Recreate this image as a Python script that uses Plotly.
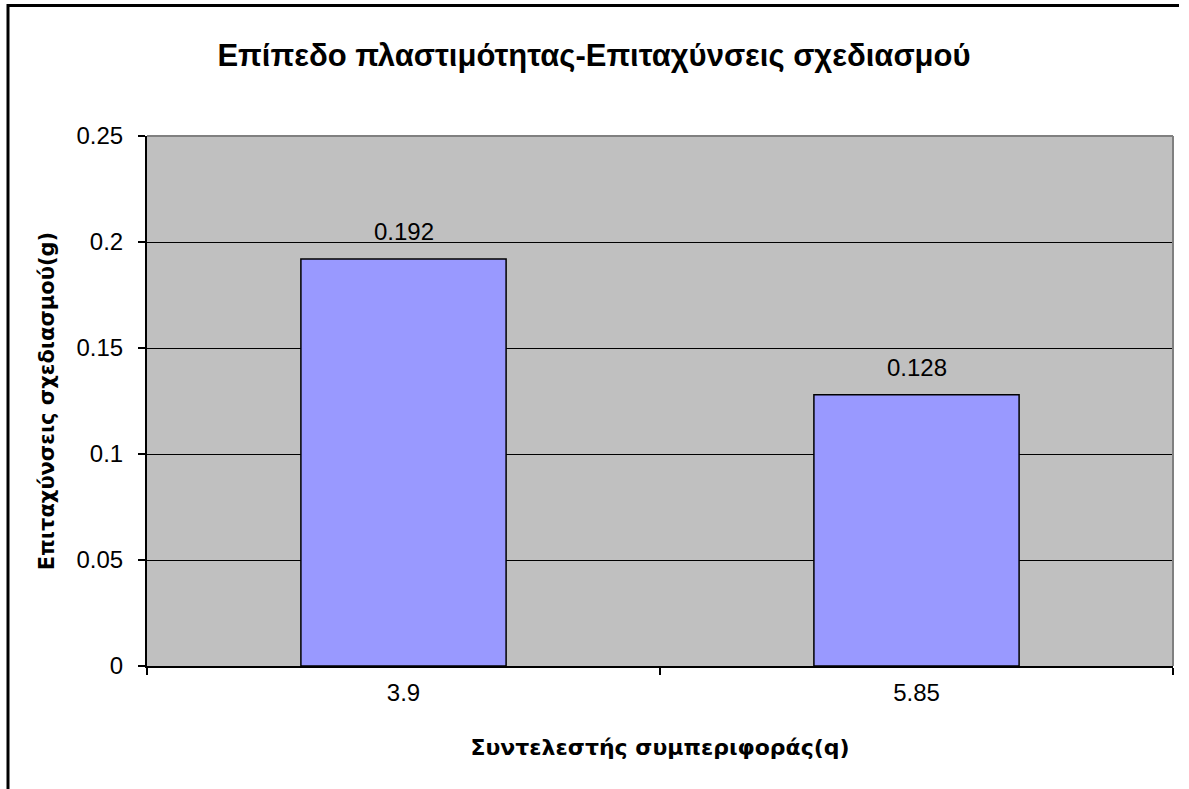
import plotly.graph_objects as go

# Behaviour factor q (categories) and design accelerations in g
q_labels = ["3.9", "5.85"]
accel_g = [0.192, 0.128]
value_labels = ["0.192", "0.128"]

W, H = 1189, 789
L, R, T, B = 147, 16, 136, 123
FONT = "Liberation Sans, Arial"
AXIS_TITLE_FONT = "DejaVu Sans, Verdana"

fig = go.Figure()
fig.add_trace(go.Bar(
    x=q_labels,
    y=accel_g,
    width=0.4,
    marker=dict(color="#9999FF", line=dict(color="black", width=1.5)),
    hoverinfo="x+y",
))

# Value labels sitting above each bar (category positions by index)
for i, (v, lab) in enumerate(zip(accel_g, value_labels)):
    fig.add_annotation(
        x=i, y=v, xref="x", yref="y",
        text=lab, showarrow=False,
        yanchor="bottom", yshift=12,
        font=dict(family=FONT, size=24, color="black"),
    )

fig.update_layout(
    width=W, height=H,
    margin=dict(l=L, r=R, t=T, b=B),
    paper_bgcolor="white",
    plot_bgcolor="#C0C0C0",
    showlegend=False,
    bargap=0.6,
    title=dict(
        text="<b>Επίπεδο πλαστιμότητας-Επιταχύνσεις σχεδιασμού</b>",
        x=594 / W, xanchor="center",
        y=1 - 55 / H, yanchor="middle",
        font=dict(family=FONT, size=31, color="black"),
    ),
    xaxis=dict(
        type="category",
        categoryorder="array", categoryarray=q_labels,
        range=[-0.5, len(q_labels) - 0.5],
        tickson="boundaries",
        ticks="outside", ticklen=7, tickwidth=1.5, tickcolor="black",
        showline=True, linecolor="black", linewidth=2,
        showgrid=False,
        ticklabelstandoff=4,
        tickfont=dict(family=FONT, size=24, color="black"),
        title=dict(
            text="<b>Συντελεστής συμπεριφοράς(q)</b>",
            font=dict(family=AXIS_TITLE_FONT, size=22, color="black"),
            standoff=35,
        ),
    ),
    yaxis=dict(
        range=[0, 0.25],
        dtick=0.05,
        ticks="outside", ticklen=7, tickwidth=1.5, tickcolor="black",
        showline=True, linecolor="black", linewidth=2,
        showgrid=True, gridcolor="black", gridwidth=1,
        zeroline=False,
        ticklabelstandoff=10,
        tickfont=dict(family=FONT, size=24, color="black"),
        title=dict(
            text="<b>Επιταχύνσεις σχεδιασμού(g)</b>",
            font=dict(family=AXIS_TITLE_FONT, size=21, color="black"),
            standoff=16,
        ),
    ),
)

# Plot-area border on the top and right sides
fig.add_shape(type="line", xref="paper", yref="paper", x0=0, x1=1, y0=1, y1=1,
              line=dict(color="#808080", width=2), layer="above")
fig.add_shape(type="line", xref="paper", yref="paper", x0=1, x1=1, y0=0, y1=1,
              line=dict(color="#808080", width=2), layer="above")

# Chart frame (top and left edges)
pw, ph = W - L - R, H - T - B
def px_x(px):
    return (px - L) / pw
def px_y(py):
    return (H - B - py) / ph
fig.add_shape(type="line", xref="paper", yref="paper",
              x0=px_x(7), x1=px_x(1179), y0=px_y(5.5), y1=px_y(5.5),
              line=dict(color="black", width=3), layer="above")
fig.add_shape(type="line", xref="paper", yref="paper",
              x0=px_x(8), x1=px_x(8), y0=px_y(4), y1=px_y(800),
              line=dict(color="black", width=3), layer="above")

fig.write_html("out.html")
